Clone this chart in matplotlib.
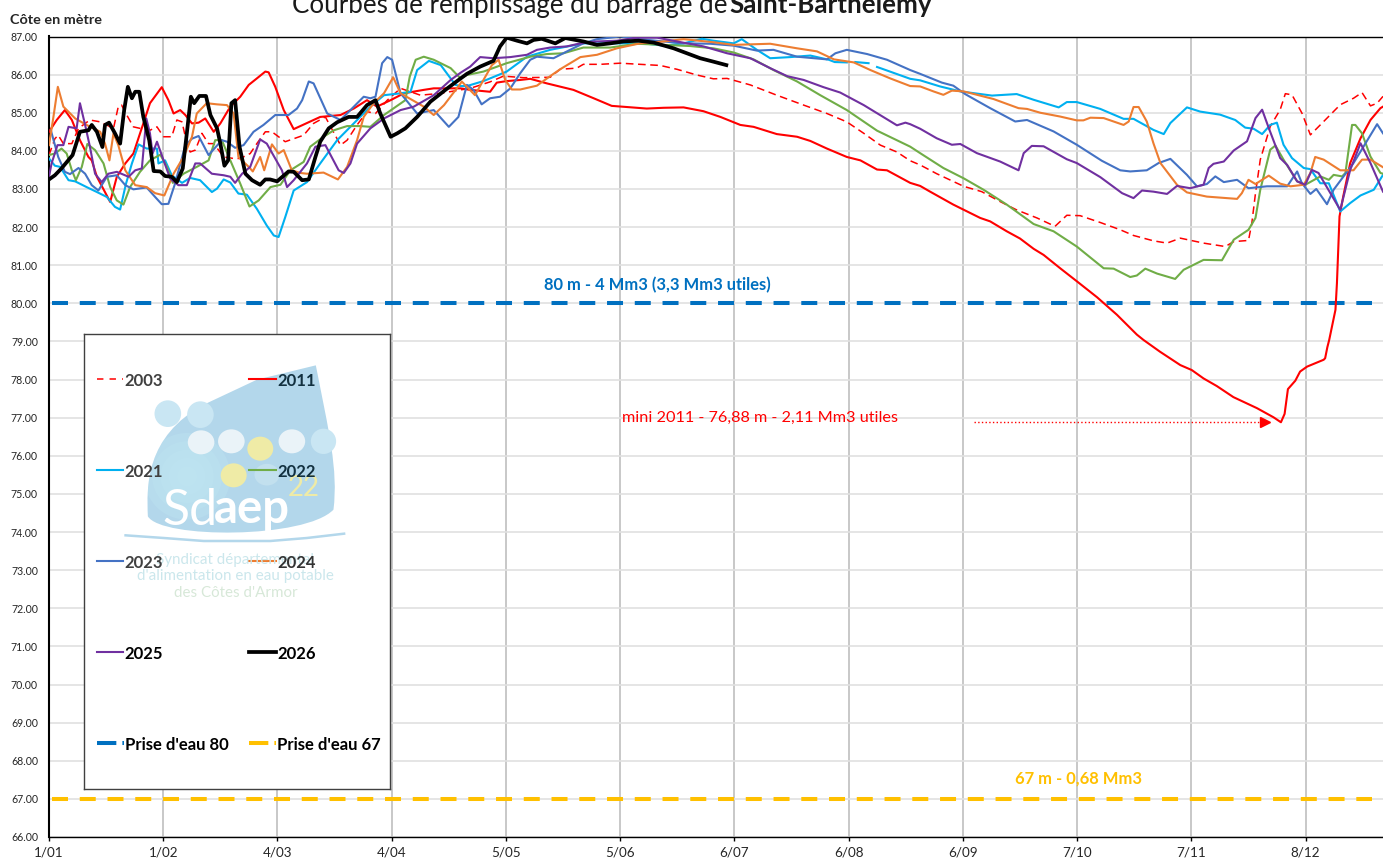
import matplotlib
matplotlib.use('Agg')
import matplotlib.pyplot as plt
from matplotlib.patches import Circle, Ellipse, PathPatch
from matplotlib.path import Path

plt.rcParams['font.family'] = ['Lato', 'DejaVu Sans']

nan = float('nan')

# (day of the axis, level in m)
curve_2003 = [(0, 83.89), (1.6, 84.32), (2.5, 84.41), (3.9, 84.19), (6.2, 84.19), (8, 84.59), (11.1, 84.81), (13.9, 84.76), (17.5, 84.59),
              (18.8, 85.16), (19.7, 85.2), (21.1, 84.94), (22.9, 84.63), (24.7, 84.59), (27.4, 84.54), (29.3, 84.63), (31.1, 84.37), (33.3, 84.37),
              (34.7, 84.81), (36.1, 84.76), (37, 84.37), (38.3, 83.97), (39.7, 84.02), (41.5, 84.46), (43.3, 84.19), (44.7, 84.19), (47.4, 83.84),
              (50.1, 83.8), (51.9, 83.8), (54.6, 83.93), (56.4, 84.19), (58.7, 84.5), (60.5, 84.5), (64.1, 84.24), (69.1, 84.41), (71.8, 84.72),
              (75, 84.89), (79.1, 84.15), (80.9, 84.28), (83.6, 84.68), (86.3, 85.03), (88.6, 84.98), (91.8, 85.33), (95.4, 85.64), (100.8, 85.46),
              (106.3, 85.51), (111.7, 85.6), (114.3, 85.64), (119.7, 85.81), (123.3, 85.96), (128.8, 85.92), (136, 85.93), (138.7, 86.14), (143.2, 86.17),
              (145, 86.27), (149.6, 86.27), (155, 86.3), (160.4, 86.27), (165.9, 86.24), (170.4, 86.14), (175.8, 85.99), (180.3, 85.89), (184, 85.9),
              (190.3, 85.73), (197.5, 85.46), (204.8, 85.2), (211.1, 84.98), (216.5, 84.76), (221.1, 84.46), (225.6, 84.15), (230.1, 83.97), (233.7, 83.74),
              (236.4, 83.63), (240.9, 83.4), (248.2, 83.07), (253.1, 82.93), (258.1, 82.67), (262.6, 82.45), (268.1, 82.24), (273, 82.02), (276.2, 82.31),
              (279.8, 82.3), (285.3, 82.12), (290.7, 81.93), (294.3, 81.78), (299.7, 81.64), (303.4, 81.58), (307, 81.71), (313.3, 81.58), (319.2, 81.49),
              (321.5, 81.62), (325.5, 81.65), (326.4, 82.1), (327.4, 82.89), (328.7, 83.77), (331.4, 84.64), (334.1, 85.08), (335.5, 85.5), (337.3, 85.47),
              (340, 84.99), (342.3, 84.42), (345.9, 84.77), (350.4, 85.21), (354, 85.38), (356.3, 85.53), (358.6, 85.18), (360.4, 85.25), (362, 85.43)]

curve_2011 = [(0, 84.5), (2.1, 84.81), (4.3, 85.07), (6.2, 84.81), (8.4, 84.28), (10.7, 83.84), (11.6, 83.75), (13, 83.32), (16.6, 82.66), (18.4, 83.32),
              (20.7, 83.67), (22.9, 83.93), (25.6, 84.72), (27.4, 85.25), (30.6, 85.67), (32.4, 85.33), (33.8, 84.98), (35.6, 85.07), (37, 84.94), (38.8, 84.72),
              (40.6, 84.74), (42.4, 84.85), (44.7, 84.5), (46.5, 84.72), (49.2, 85.16), (51.9, 85.42), (54.2, 85.73), (56.4, 85.9), (58.7, 86.08), (59.6, 86.06),
              (61.4, 85.68), (63.7, 85.07), (66.4, 84.57), (69.1, 84.69), (73.6, 84.89), (79.1, 84.94), (82.7, 85.11), (86.3, 85.33), (89, 85.16), (92.7, 85.33),
              (96.3, 85.51), (101.7, 85.6), (104.4, 85.64), (111.7, 85.64), (114.3, 85.6), (119.7, 85.55), (121.5, 85.79), (124.2, 85.83), (127.9, 85.86), (130.6, 85.89),
              (135.1, 85.77), (142.3, 85.6), (147.8, 85.38), (152.7, 85.18), (156.8, 85.15), (162.2, 85.11), (166.8, 85.13), (172.2, 85.14), (177.6, 85.04), (182.2, 84.89),
              (187.6, 84.68), (191.2, 84.63), (197.5, 84.44), (203, 84.37), (206.6, 84.26), (211.1, 84.06), (216.5, 83.84), (220.2, 83.75), (224.7, 83.51), (227.4, 83.49),
              (233.7, 83.16), (236.4, 83.08), (239.1, 82.93), (245.4, 82.59), (252.7, 82.24), (255.4, 82.15), (259.9, 81.89), (263.5, 81.7), (267.2, 81.43), (269.9, 81.27),
              (274.4, 80.92), (278.9, 80.58), (284.4, 80.16), (289.8, 79.7), (295.2, 79.18), (297, 79.04), (301.5, 78.73), (307, 78.38), (310.1, 78.25), (313.3, 78.03),
              (316.9, 77.83), (321.4, 77.54), (327.8, 77.25), (332.3, 77.01), (334.3, 76.88), (335.3, 77.1), (336.2, 77.75), (338.2, 77.97), (339.5, 78.21), (341.4, 78.34),
              (345.9, 78.52), (346.3, 78.56), (346.9, 78.85), (347.4, 79.04), (349.1, 79.83), (349.5, 80.53), (350.2, 82.28), (351.2, 82.8), (353.1, 83.68), (355.9, 84.33),
              (358.6, 84.81), (361.3, 85.12), (362, 85.16)]

curve_2021 = [(0, 83.8), (1.6, 83.61), (3, 83.58), (5.3, 83.23), (7.1, 83.2), (10.2, 83.05), (13, 82.92), (15.7, 82.79), (17.9, 82.53), (19.3, 82.46), (20.9, 83.14),
              (22.5, 83.67), (24.3, 84.17), (26.5, 84.06), (29.3, 84.06), (29.7, 83.67), (31.5, 83.75), (33.3, 83.36), (36.1, 83.16), (38.3, 83.29), (41, 83.23), (44.2, 82.92),
              (45.6, 83.01), (47.4, 83.25), (49.2, 83.17), (51.4, 82.88), (53.7, 82.85), (56.4, 82.48), (59.1, 82.04), (61, 81.78), (62.3, 81.74), (64.1, 82.26), (66.4, 82.96),
              (70, 83.18), (73.6, 83.67), (78.2, 84.28), (82.7, 84.72), (87.2, 85.16), (90.9, 85.46), (95.4, 85.51), (98.1, 85.55), (99.9, 86.12), (103.1, 86.36), (106.3, 86.25),
              (110.3, 85.73), (111.7, 85.7), (113.4, 85.7), (117.9, 85.83), (124.2, 86.08), (129.7, 86.47), (136, 86.65), (145, 86.82), (154.1, 86.82), (161.3, 86.82), (166.8, 86.76),
              (172.2, 86.82), (177.2, 86.94), (180.3, 86.89), (185.8, 86.82), (188, 86.93), (192.1, 86.65), (195.7, 86.43), (201.2, 86.46), (206.6, 86.5), (211.6, 86.39),
              (213.2, 86.33), (216.5, 86.32), (217.5, nan), (218.8, 86.33), (222.4, 86.3), (223.5, nan),
              (224.7, 86.2), (225.6, 86.17), (233.7, 85.89), (236.4, 85.85), (241.8, 85.69), (247.3, 85.56), (255.9, 85.45), (262.6, 85.49), (267.2, 85.34), (274, 85.14), (276.2, 85.28),
              (278.9, 85.28), (285.3, 85.1), (291.6, 84.84), (294.3, 84.84), (299.7, 84.55), (302.5, 84.44), (304.3, 84.73), (308.8, 85.14), (312.4, 85.03), (317.8, 84.95), (321.9, 84.81),
              (324.6, 84.61), (326.9, 84.58), (329.2, 84.44), (331.4, 84.68), (333.2, 84.74), (335, 84.16), (337.3, 83.81), (340.5, 83.55), (342.3, 83.52), (345, 83.15), (347.3, 83.15),
              (350.4, 82.41), (353.1, 82.63), (355.9, 82.83), (359.5, 82.98), (362, 83.37)]

curve_2022 = [(0, 83.89), (1.6, 83.93), (3.4, 84.06), (4.8, 83.93), (6.2, 83.49), (7.3, 83.23), (8.9, 83.58), (10.4, 84.18), (12.5, 84.02), (14.8, 83.67), (16.6, 83.05), (18.4, 82.7),
              (20.2, 82.59), (22, 83.05), (24.7, 83.45), (27.4, 83.75), (30.2, 83.9), (32, 83.58), (33.6, 83.16), (36.5, 83.4), (40.1, 83.58), (43.3, 83.75), (45.1, 84.28), (46.9, 84.28),
              (49.2, 83.75), (51.9, 83.14), (54.4, 82.54), (56.9, 82.7), (60.1, 83.05), (62.8, 83.11), (65.5, 83.49), (69.1, 83.71), (70.9, 84.11), (74.5, 84.37), (77.3, 84.54), (80.9, 84.65),
              (84.5, 84.65), (87.2, 84.63), (90.9, 84.94), (96.7, 85.33), (97.9, 85.95), (99.5, 86.39), (101.7, 86.47), (104.4, 86.39), (109, 86.17), (111.7, 85.9), (113.4, 85.99), (117.9, 86.08),
              (124.2, 86.3), (130.6, 86.47), (135.1, 86.54), (139.6, 86.56), (145, 86.71), (152.3, 86.71), (159.5, 86.81), (166.8, 86.78), (174, 86.75), (180.3, 86.69), (185.8, 86.58), (191.2, 86.4),
              (196.6, 86.12), (203, 85.82), (209.3, 85.46), (216.5, 85.07), (224.7, 84.53), (233.7, 84.11), (236.4, 83.94), (242.7, 83.55), (248.2, 83.28), (253.6, 82.98), (259.9, 82.59), (267.2, 82.08),
              (272.6, 81.89), (278.9, 81.49), (286.2, 80.92), (288.9, 80.91), (293.4, 80.69), (295.2, 80.73), (297.5, 80.91), (300.7, 80.78), (305.6, 80.64), (307.9, 80.88), (313.3, 81.14), (318.3, 81.13),
              (321.5, 81.67), (325.5, 81.93), (327.4, 82.24), (328.7, 82.98), (331.4, 84.03), (332.8, 84.14), (335, 83.77), (338.7, 83.2), (340.9, 83.11), (345, 83.33), (347.3, 83.24), (348.6, 83.37),
              (350.9, 83.33), (351.8, 83.42), (353.6, 84.68), (354.5, 84.68), (356.3, 84.46), (358.6, 83.85), (361.3, 83.42), (362, 83.4)]

curve_2023 = [(0.5, 84.54), (2.5, 83.84), (4.3, 83.45), (5.7, 83.39), (8, 83.55), (9.8, 83.4), (11.6, 83.1), (13.4, 82.96), (15.7, 83.32), (18.4, 83.36), (20.7, 83.1), (22.9, 82.99), (26.5, 83.04),
              (28.8, 82.79), (30.6, 82.6), (32.4, 82.61), (34.2, 83.14), (37, 84.15), (38.8, 84.32), (40.6, 84.39), (43.3, 83.89), (46.9, 84.28), (48.3, 84.24), (50.5, 84.08), (52.8, 84.15), (55.5, 84.5),
              (58.2, 84.68), (61.4, 84.94), (65, 84.94), (67.3, 85.11), (68.7, 85.33), (70.5, 85.82), (71.8, 85.77), (75.5, 84.98), (79.1, 84.81), (81.8, 85.07), (85.4, 85.42), (87.2, 85.38), (88.6, 85.42),
              (90.4, 86.3), (91.8, 86.46), (93.1, 86.39), (95.4, 85.51), (99.9, 84.98), (104.4, 85.07), (108.5, 84.63), (111.1, 84.89), (113.4, 85.73), (115.2, 85.6), (117.4, 85.22), (119.7, 85.38), (122.4, 85.42),
              (125.2, 85.64), (127.9, 86.04), (130.6, 86.39), (132.4, 86.47), (136.9, 86.43), (141.4, 86.65), (145, 86.82), (148.7, 86.93), (155, 87), (160.4, 86.93), (166.8, 86.87), (172.2, 86.82), (179.4, 86.81),
              (185.8, 86.76), (192.1, 86.63), (196.6, 86.65), (203, 86.47), (211.1, 86.4), (213.4, 86.56), (216.5, 86.65), (222, 86.54), (227.4, 86.39), (233.7, 86.12), (236.4, 86.02), (242.3, 85.79), (245.4, 85.71),
              (248.6, 85.49), (255.4, 85.12), (262.2, 84.77), (265.4, 84.81), (272.6, 84.51), (278.9, 84.16), (285.7, 83.74), (290.7, 83.49), (293.4, 83.46), (297.9, 83.49), (301.1, 83.68), (304.3, 83.79), (308.8, 83.37),
              (311.5, 83.07), (314.2, 83.13), (316.5, 83.33), (318.8, 83.18), (322.4, 83.24), (325.5, 83.02), (330.5, 83.07), (336, 83.07), (338.7, 83.46), (340, 83.15), (342.3, 82.87), (343.9, 83), (346.8, 82.6),
              (348.6, 82.98), (354, 83.68), (360.4, 84.7), (362, 84.46)]

curve_2024 = [(0, 84.15), (1.2, 84.89), (2.4, 85.68), (3.9, 85.16), (7.1, 84.85), (10.2, 84.68), (13.9, 84.5), (15.2, 84.19), (16.4, 83.75), (17.5, 84.46), (18.8, 84.15), (20.7, 83.49), (23.4, 83.1), (26.5, 83.05),
              (28.8, 82.89), (31.3, 82.83), (33.8, 83.4), (36.5, 83.84), (38.8, 84.37), (40.1, 84.98), (42.8, 85.25), (45.6, 85.22), (48.3, 85.2), (50.1, 84.98), (51.4, 83.84), (54.2, 83.58), (55.3, 83.46), (57.3, 83.84),
              (58.4, 83.49), (60.5, 84.17), (62.3, 83.93), (63.7, 84.02), (65.9, 83.49), (68.2, 83.42), (70, 83.4), (74.5, 83.43), (78.4, 83.25), (80.9, 83.58), (83.6, 84.28), (85.4, 84.89), (88.1, 85.25), (90.9, 85.51),
              (93.4, 85.93), (95.4, 85.51), (98.1, 85.36), (101.7, 85.16), (104.4, 84.94), (107.2, 85.2), (111.7, 85.77), (112, 85.82), (115.6, 85.46), (117.9, 85.86), (120.2, 86.25), (122, 86.39), (123.8, 85.86), (125.6, 85.61),
              (127.9, 85.61), (132.4, 85.71), (136, 85.96), (138.7, 86.14), (144.2, 86.46), (148.7, 86.52), (154.1, 86.69), (160.4, 86.82), (166.8, 86.87), (172.2, 86.93), (180.3, 86.85), (185.8, 86.78), (195.7, 86.81),
              (203, 86.69), (208.4, 86.61), (213, 86.4), (218.4, 86.32), (222.9, 86.12), (228.3, 85.9), (233.7, 85.7), (236.4, 85.69), (240, 85.56), (242.7, 85.47), (245, 85.58), (248.2, 85.56), (256.3, 85.36), (263.1, 85.12),
              (265.4, 85.1), (269, 85), (274.4, 84.9), (278.9, 84.8), (280.7, 84.8), (282.6, 84.87), (286.2, 84.86), (291.6, 84.68), (293, 84.77), (294.3, 85.15), (295.7, 85.15), (297.9, 84.77), (299.7, 84.2), (301.6, 83.68),
              (306.1, 83.11), (308.8, 82.91), (314.2, 82.8), (322.4, 82.74), (323.7, 82.89), (325.5, 83.24), (327.4, 83.13), (331, 83.35), (334.1, 83.14), (336.9, 83.07), (340.5, 83.11), (342.3, 83.42), (343.6, 83.84),
              (345.9, 83.77), (350.4, 83.49), (354, 83.49), (356.3, 83.77), (358.6, 83.77), (362, 83.57)]

curve_2025 = [(0, 83.32), (0.7, 83.67), (2.3, 84.15), (3.9, 84.15), (5.3, 84.63), (7.5, 84.59), (8.4, 85.25), (9.8, 84.68), (11.1, 84.11), (12.5, 83.4), (14.3, 83.18), (16.1, 83.4), (18.4, 83.45), (21.6, 83.32),
              (23.4, 83.49), (25.2, 83.54), (26.4, 84.85), (27.4, 84.46), (28.1, 83.93), (29.3, 84.24), (31.1, 83.75), (32.9, 83.27), (35.1, 83.1), (37.4, 83.1), (39.7, 83.67), (41, 83.67), (44.2, 83.4), (47.4, 83.36),
              (49.2, 83.32), (50.5, 83.16), (52.4, 83.4), (54.6, 83.58), (57.3, 84.3), (59.1, 84.19), (63.2, 83.49), (64.6, 83.05), (66.4, 83.23), (70, 83.67), (72.3, 84.11), (75, 84.15), (78.6, 83.49), (80, 83.42), (81.8, 83.67),
              (83.6, 84.19), (87.2, 84.59), (90.9, 84.85), (95.4, 85.07), (99, 85.16), (104.4, 85.46), (109, 85.86), (111.7, 86.05), (114.3, 86.21), (117, 86.46), (120.6, 86.43), (125.2, 86.46), (129.7, 86.52), (132.4, 86.65),
              (136, 86.71), (140.5, 86.74), (144.2, 86.82), (148.7, 86.87), (154.1, 86.89), (159.5, 86.97), (165, 86.97), (170.4, 86.87), (177.6, 86.74), (184, 86.56), (190.3, 86.43), (195.7, 86.17), (200.3, 85.96), (204.8, 85.86),
              (210.2, 85.67), (214.7, 85.53), (221.1, 85.2), (230.1, 84.67), (232.4, 84.74), (233.7, 84.7), (236.4, 84.58), (240.9, 84.33), (245, 84.16), (247.3, 84.18), (251.8, 83.94), (258.1, 83.72), (263.1, 83.49), (264.5, 83.94),
              (266.7, 84.13), (269.9, 84.12), (276.2, 83.78), (278.9, 83.68), (285.3, 83.31), (291.2, 82.89), (294.3, 82.76), (296.6, 82.96), (299.7, 82.93), (303.4, 82.87), (306.1, 83.08), (309.7, 83.02), (313.3, 83.11), (314.7, 83.55),
              (316, 83.66), (318.8, 83.72), (321.5, 84.01), (325.1, 84.25), (327.4, 84.86), (329.2, 85.08), (331, 84.6), (334.1, 83.81), (336, 83.63), (338.7, 83.2), (340.9, 83.11), (342.7, 83.5), (344.5, 83.42), (350.4, 82.45),
              (353.1, 83.5), (355.9, 84.2), (358.6, 83.68), (362, 82.93)]

curve_2026 = [(0, 83.25), (1.6, 83.36), (3.4, 83.54), (6.4, 83.89), (8.4, 84.5), (10.7, 84.54), (11.6, 84.68), (13, 84.5), (14.5, 84.1), (15.2, 84.68), (16.3, 84.74), (17.9, 84.46), (19.3, 84.19), (20.4, 85.07),
              (21.4, 85.68), (22.5, 85.38), (23.4, 85.55), (24.5, 85.55), (25.6, 84.89), (27.2, 84.28), (28.4, 83.47), (30.2, 83.46), (31.5, 83.34), (33.3, 83.32), (34.7, 83.18), (36.3, 83.54), (37.4, 84.46), (38.5, 85.42),
              (39.4, 85.25), (40.8, 85.44), (42.6, 85.44), (43.8, 84.94), (45.6, 84.59), (46.5, 84.19), (47.6, 83.61), (48.6, 83.75), (49.5, 85.25), (50.5, 85.33), (51.7, 84.11), (53.3, 83.4), (55.1, 83.23), (57.3, 83.11),
              (58.7, 83.25), (60, 83.25), (61.9, 83.2), (65, 83.46), (66.4, 83.45), (68.7, 83.23), (70.5, 83.25), (72.3, 83.84), (73.6, 84.24), (75.9, 84.59), (78.2, 84.75), (81.3, 84.89), (83.6, 84.89), (86.3, 85.2), (88.6, 85.33),
              (89.9, 84.98), (92.7, 84.37), (94.5, 84.46), (96.7, 84.59), (99.9, 84.89), (103.5, 85.29), (108.1, 85.64), (111.7, 85.9), (113.4, 86.02), (117, 86.21), (120.6, 86.36), (122.4, 86.74), (124.2, 86.97), (127, 86.89),
              (129.7, 86.82), (131.5, 86.91), (133.7, 86.94), (137.4, 86.82), (140.1, 86.96), (145, 86.87), (148.7, 86.78), (152.3, 86.82), (155.9, 86.87), (160, 86.89), (164.1, 86.84), (169.5, 86.69), (173.1, 86.56), (176.7, 86.43),
              (180.3, 86.34), (183.8, 86.25)]

years = ['2003', '2011', '2021', '2022', '2023', '2024', '2025', '2026']
curves = [curve_2003, curve_2011, curve_2021, curve_2022, curve_2023, curve_2024, curve_2025, curve_2026]
colors = ['#FF0000', '#FF0000', '#00B0F0', '#70AD47', '#4472C4', '#ED7D31', '#7030A0', '#000000']
widths = [1.1, 1.5, 1.5, 1.5, 1.5, 1.5, 1.5, 2.7]

prise_80 = 80
prise_67 = 67
tick_days = [0, 31, 62, 93, 124, 155, 186, 217, 248, 279, 310, 341]
tick_labels = ['1/01', '1/02', '4/03', '4/04', '5/05', '5/06', '6/07', '6/08', '6/09', '7/10', '7/11', '8/12']
y_ticks = list(range(66, 88))
mini_level = 76.88

W, H = 1383, 861
fig = plt.figure(figsize=(W / 100, H / 100), dpi=100)
ax = fig.add_axes([49 / W, (H - 837) / H, (W - 49) / W, 800.5 / H])

ax.set_xlim(0, 362)
ax.set_ylim(66, 87)
ax.set_yticks(y_ticks)
ax.set_yticklabels(['%.2f' % y for y in y_ticks], fontsize=7.6, color='#262626')
ax.set_xticks(tick_days)
ax.set_xticklabels(tick_labels, fontsize=9.7, color='#262626')
ax.tick_params(axis='x', length=3, width=1, pad=4, color='#000000')
ax.tick_params(axis='y', length=0, pad=8)
ax.yaxis.grid(True, color='#E0E0E0', lw=1.2)
ax.xaxis.grid(True, color='#BFBFBF', lw=1.2)
ax.set_axisbelow(True)
ax.spines['right'].set_visible(False)
ax.spines['left'].set_linewidth(1.5)
ax.spines['top'].set_linewidth(1.0)
ax.spines['bottom'].set_linewidth(1.0)

ax.plot([0.9, 359], [prise_80, prise_80], color='#0070C0', lw=2.9, dashes=(3.97, 2.92), zorder=2)
ax.plot([0.9, 359], [prise_67, prise_67], color='#FFC000', lw=2.9, dashes=(3.97, 2.92), zorder=2)

for year, curve, color, width in zip(years, curves, colors, widths):
    days = [p[0] for p in curve]
    levels = [p[1] for p in curve]
    if year == '2003':
        ax.plot(days, levels, color=color, lw=width, dashes=(5, 3), zorder=3)
    else:
        ax.plot(days, levels, color=color, lw=width, zorder=3, solid_joinstyle='round')

ax.text(165, 80.49, '80 m - 4 Mm3 (3,3 Mm3 utiles)', color='#0070C0', fontsize=11.9, fontweight='bold', ha='center', va='center')
ax.text(279.5, 67.54, '67 m - 0,68 Mm3', color='#FFC000', fontsize=11.9, fontweight='bold', ha='center', va='center')
ax.text(193, 76.99, 'mini 2011 - 76,88 m - 2,11 Mm3 utiles', color='#FF0000', fontsize=11.7, ha='center', va='center')
ax.plot([251, 329], [mini_level, mini_level], color='#FF0000', lw=1.0, ls=':', zorder=3)
ax.plot([330], [mini_level], marker='>', color='#FF0000', ms=7, zorder=3)

fig.text(10 / W, 1 - 24 / H, 'Côte en mètre', fontsize=10.4, fontweight='bold', color='#262626')
fig.text(292 / W, 1 - 13 / H, 'Courbes de remplissage du barrage de ', fontsize=18.6, color='#1A1A1A')
fig.text(729 / W, 1 - 13 / H, 'Saint-Barthélemy', fontsize=18.6, fontweight='bold', color='#1A1A1A')

# legend box with the logo behind it, in its own axes
box = fig.add_axes([84 / W, (H - 789) / H, 306 / W, 455 / H])
box.set_xlim(40, 960)
box.set_ylim(1378, 13)
box.set_xticks([])
box.set_yticks([])
for s in box.spines.values():
    s.set_color('#404040')
    s.set_linewidth(1.0)

drop = Path([(737, 107), (560, 150), (400, 225), (225, 320), (228, 470), (232, 560), (272, 628), (705, 628), (790, 540), (805, 420), (775, 300), (737, 107)],
            [Path.MOVETO, Path.LINETO, Path.LINETO, Path.CURVE4, Path.CURVE4, Path.CURVE4, Path.CURVE4, Path.LINETO, Path.CURVE4, Path.CURVE4, Path.CURVE4, Path.LINETO])
drop_patch = PathPatch(drop, facecolor='#B3D7EB', edgecolor='none')
box.add_patch(drop_patch)
for r in [130, 105, 80, 55, 30]:
    glow = Circle((350, 440), r, facecolor='#BFE6F2', edgecolor='none', alpha=0.35)
    box.add_patch(glow)
    glow.set_clip_path(drop_patch)
box.plot([165, 280, 400, 600, 710, 822], [617, 625, 634, 634, 625, 612], color='#B3D7EB', lw=1.8)
for x, y, r in [(292, 252, 40), (390, 255, 40), (760, 335, 38)]:
    box.add_patch(Circle((x, y), r, facecolor='#C9E6F3', edgecolor='none'))
for x, y in [(392, 338), (483, 335), (665, 335)]:
    box.add_patch(Ellipse((x, y), 80, 72, facecolor='#EAF3F8', edgecolor='none'))
for x, y in [(570, 357), (490, 437)]:
    box.add_patch(Ellipse((x, y), 78, 72, facecolor='#EFEBA6', edgecolor='none'))
box.add_patch(Ellipse((590, 435), 75, 65, facecolor='#C2E0EE', edgecolor='none'))
box.text(275, 585, 'Sd', color='white', fontsize=36, va='baseline')
box.text(430, 580, 'aep', color='white', fontsize=34, va='baseline', fontweight='bold')
box.text(700, 498, '22', color='#EFEBA6', fontsize=20, ha='center', va='baseline')
box.text(495, 692, 'Syndicat départemental', color='#CBE7EC', fontsize=10.9, ha='center', va='center')
box.text(495, 740, "d'alimentation en eau potable", color='#CBE7EC', fontsize=10.9, ha='center', va='center')
box.text(495, 789, "des Côtes d'Armor", color='#D7E8D8', fontsize=10.9, ha='center', va='center')

col_x = [78, 537]
row_y = [149, 422, 695, 968, 1241]
text_colors = ['#404040', '#12303F', '#404040', '#12303F', '#404040', '#333333', '#000000', '#000000']
for i, year in enumerate(years):
    x = col_x[i % 2]
    y = row_y[i // 2]
    if year == '2003':
        box.plot([x, x + 80], [y, y], color=colors[i], lw=1.1, dashes=(4.2, 4))
    else:
        box.plot([x, x + 80], [y, y], color=colors[i], lw=widths[i])
    box.text(x + 84, y + 6, year, color=text_colors[i], fontsize=12, fontweight='bold', va='center')
box.plot([col_x[0], col_x[0] + 82], [row_y[4], row_y[4]], color='#0070C0', lw=2.9, dashes=(4.8, 1.5))
box.plot([col_x[1], col_x[1] + 80], [row_y[4], row_y[4]], color='#FFC000', lw=2.9, dashes=(4.8, 1.5))
box.text(col_x[0] + 84, row_y[4] + 6, "Prise d'eau 80", color='#000000', fontsize=12, fontweight='bold', va='center')
box.text(col_x[1] + 84, row_y[4] + 6, "Prise d'eau 67", color='#000000', fontsize=12, fontweight='bold', va='center')

plt.savefig('out.png', dpi=100)
